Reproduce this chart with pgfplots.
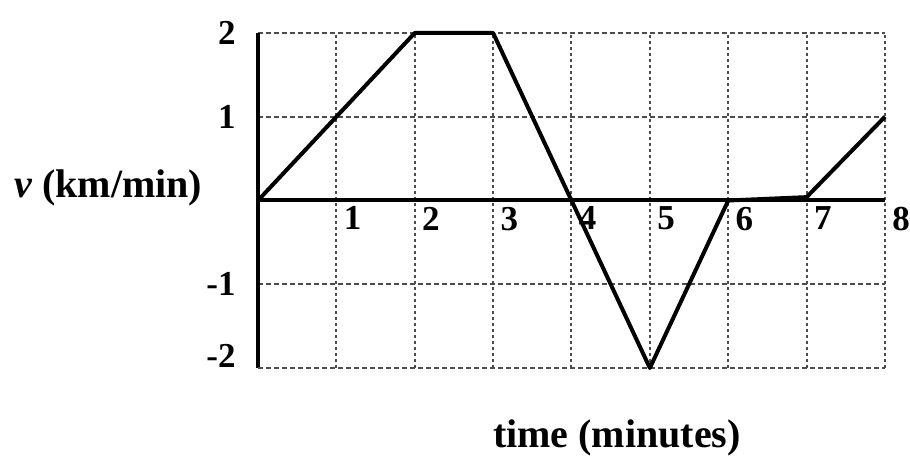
\documentclass[border=0pt]{standalone}
\usepackage{fontspec}
\setmainfont{Liberation Serif}
\usepackage{pgfplots}
\pgfplotsset{compat=1.18}
\begin{document}
\begin{tikzpicture}
\path[use as bounding box] (-129pt,-45.5pt) rectangle (326pt,184pt);
\begin{axis}[
  at={(0pt,0pt)}, anchor=south west,
  scale only axis, width=313.5pt, height=167.5pt,
  xmin=0, xmax=8, ymin=-2, ymax=2,
  axis x line=middle, axis y line=left,
  axis line style={line width=2pt, -},
  clip=false,
  /pgf/number format/assume math mode=true,
  xtick={1,2,3,4,5,6,7,8},
  ytick={-1,1,2},
  extra y ticks={-2},
  extra y tick style={grid=major, yticklabel style={yshift=6pt}},
  major tick length=0pt,
  xmajorgrids=true, ymajorgrids=true,
  x grid style={black!70, line width=1pt, dash pattern=on 1.5pt off 1.5pt},
  y grid style={black!70, line width=1pt, dash pattern=on 2.5pt off 1.5pt},
  ticklabel style={font=\bfseries\fontsize{17.5}{17.5}\selectfont},
  xticklabel style={anchor=north west, inner sep=0pt, xshift=3.5pt, yshift=-3pt},
  yticklabel style={anchor=east, inner sep=0pt, xshift=-11pt},
  xlabel={time (minutes)},
  ylabel={\textit{v} (km/min)},
  every axis x label/.style={at={(axis description cs:0.5726,-0.209)}, anchor=center, font=\bfseries\fontsize{20}{20}\selectfont},
  every axis y label/.style={at={(axis description cs:-0.239,0.537)}, anchor=center, font=\bfseries\fontsize{20}{20}\selectfont},
]
\addplot[black, line width=2pt, line join=round] coordinates {
  (0,0) (2,2) (3,2) (4,0) (5,-2) (6,0) (7,0.04) (8,1)
};
\end{axis}
\end{tikzpicture}
\end{document}
